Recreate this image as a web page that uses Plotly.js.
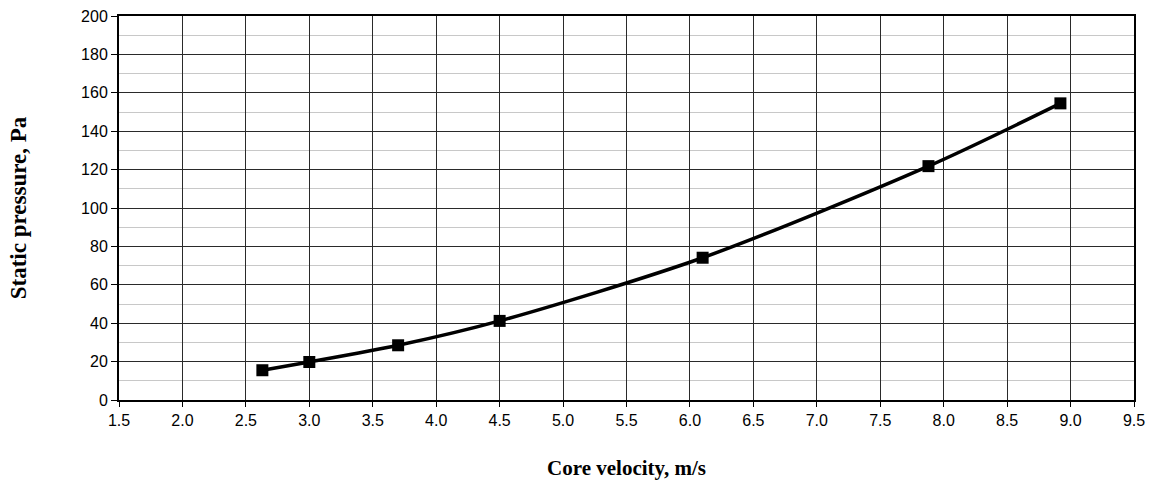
<!DOCTYPE html>
<html>
<head>
<meta charset="utf-8">
<script src="https://cdn.plot.ly/plotly-3.0.1.min.js"></script>
<style>
  html, body { margin: 0; padding: 0; background: #ffffff; }
  #chart { width: 1154px; height: 487px; }
</style>
</head>
<body>
<div id="chart"></div>
<script>
// Data
const coreVelocity = [2.63, 3.0, 3.7, 4.5, 6.1, 7.88, 8.92];
const staticPressure = [15.5, 19.8, 28.5, 41.2, 74.1, 121.8, 154.5];

const xTitle = "Core velocity, m/s";
const yTitle = "Static pressure, Pa";

const trace = {
  x: coreVelocity,
  y: staticPressure,
  type: "scatter",
  mode: "lines+markers",
  line: { color: "#000000", width: 3.5, shape: "spline", smoothing: 0.8 },
  marker: { symbol: "square", size: 12, color: "#000000" },
  showlegend: false,
  hoverinfo: "x+y"
};

const xTitleFont = { family: "Liberation Serif, Times New Roman, serif", size: 21, color: "#000000", weight: "bold" };
const yTitleFont = { family: "Liberation Serif, Times New Roman, serif", size: 23, color: "#000000", weight: "bold" };
const tickFont = { family: "Liberation Sans, Arial, sans-serif", size: 16, color: "#000000" };

const layout = {
  width: 1154,
  height: 487,
  margin: { l: 119, r: 20, t: 16, b: 87 },
  paper_bgcolor: "#ffffff",
  plot_bgcolor: "#ffffff",
  font: tickFont,
  xaxis: {
    range: [1.5, 9.5],
    dtick: 0.5,
    tick0: 1.5,
    tickformat: ".1f",
    showgrid: true,
    gridcolor: "#2a2a2a",
    gridwidth: 1,
    zeroline: false,
    showline: true,
    linecolor: "#000000",
    linewidth: 2,
    mirror: true,
    ticks: "outside",
    ticklen: 5,
    tickcolor: "#000000",
    tickfont: tickFont,
    automargin: false,
    title: { text: xTitle, font: xTitleFont, standoff: 32 }
  },
  yaxis: {
    range: [0, 200],
    dtick: 20,
    tick0: 0,
    showgrid: true,
    gridcolor: "#2a2a2a",
    gridwidth: 1,
    minor: { dtick: 10, showgrid: true, gridcolor: "#c8c8c8", gridwidth: 1, ticks: "" },
    zeroline: false,
    showline: true,
    linecolor: "#000000",
    linewidth: 2,
    mirror: true,
    ticks: "outside",
    ticklen: 6,
    tickcolor: "#000000",
    tickfont: tickFont,
    automargin: false,
    title: { text: yTitle, font: yTitleFont, standoff: 48 }
  }
};

Plotly.newPlot("chart", [trace], layout, { displayModeBar: false, staticPlot: true });
</script>
</body>
</html>
